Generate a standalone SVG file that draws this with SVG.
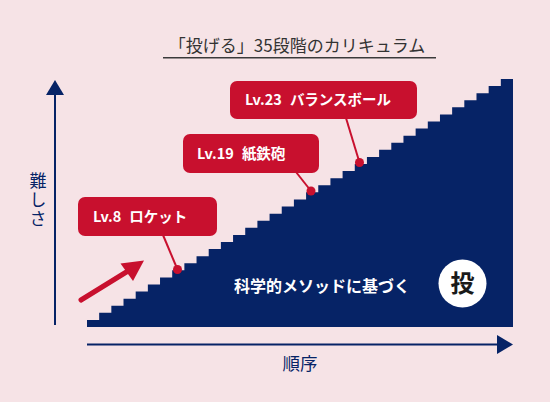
<svg xmlns="http://www.w3.org/2000/svg" width="550" height="402" viewBox="0 0 550 402">
<style>
.jp{font-family:"Noto Sans CJK JP","Noto Sans",sans-serif;}
.lbl{font-size:14.5px;font-weight:bold;fill:#ffffff;}
.box{fill:#c8102e;}
.lead{stroke:#c8102e;stroke-width:2;fill:none;}
.dot{fill:#c8102e;}
.navy{fill:#062366;}
.axis{stroke:#062366;stroke-width:2;fill:none;}
</style>
<rect width="550" height="402" fill="#f6e3e6"/>
<g id="title">
<text class="jp" x="297" y="52" font-size="17" fill="#333333" text-anchor="middle">「投げる」35段階のカリキュラム</text>
<line x1="163" y1="57.7" x2="436" y2="57.7" stroke="#3a3a3a" stroke-width="1.6"/>
</g>
<g id="axes">
<line class="axis" x1="55" y1="93" x2="55" y2="325"/>
<polygon class="navy" points="55,80 64,95 46,95"/>
<line class="axis" x1="87" y1="344.5" x2="499" y2="344.5"/>
<polygon class="navy" points="513,344.5 497,335 497,354"/>
<text class="jp navy" x="38" y="172" font-size="17" writing-mode="vertical-rl" letter-spacing="2">難しさ</text>
<text class="jp navy" x="300" y="370" font-size="17.5" text-anchor="middle">順序</text>
</g>
<g id="stairs">
<path class="navy" d="M87,327 V319.91 H99.17 V312.83 H111.34 V305.74 H123.51 V298.66 H135.69 V291.57 H147.86 V284.49 H160.03 V277.4 H172.2 V270.31 H184.37 V263.23 H196.54 V256.14 H208.71 V249.06 H220.89 V241.97 H233.06 V234.89 H245.23 V227.8 H257.4 V220.71 H269.57 V213.63 H281.74 V206.54 H293.91 V199.46 H306.09 V192.37 H318.26 V185.29 H330.43 V178.2 H342.6 V171.11 H354.77 V164.03 H366.94 V156.94 H379.11 V149.86 H391.29 V142.77 H403.46 V135.69 H415.63 V128.6 H427.8 V121.51 H439.97 V114.43 H452.14 V107.34 H464.31 V100.26 H476.49 V93.17 H488.66 V86.09 H500.83 V79 H513 V327 Z"/>
<text class="jp" x="234" y="292" font-size="16" font-weight="bold" fill="#ffffff">科学的メソッドに基づく</text>
<circle cx="462.5" cy="283.5" r="24" fill="#ffffff"/>
<text class="jp" x="462.5" y="292" font-size="24" font-weight="bold" fill="#1a1a1a" text-anchor="middle">投</text>
</g>
<g id="connectors">
<line class="lead" x1="163" y1="235" x2="177.5" y2="269.5"/>
<line class="lead" x1="296" y1="172" x2="311" y2="191"/>
<line class="lead" x1="346" y1="118" x2="359.5" y2="162.5"/>
<circle class="dot" cx="177.5" cy="269.5" r="4.5"/>
<circle class="dot" cx="311" cy="191" r="4.5"/>
<circle class="dot" cx="359.5" cy="162.5" r="4.5"/>
<line x1="81" y1="300" x2="128" y2="271" stroke="#c8102e" stroke-width="5" stroke-linecap="round"/>
<polygon points="144,260.5 120.5,263.5 133,281" fill="#c8102e"/>
</g>
<g id="lv8">
<rect class="box" x="78" y="197" width="139" height="39" rx="7"/>
<text class="jp lbl" x="93" y="222">Lv.8<tspan dx="8">ロケット</tspan></text>
</g>
<g id="lv19">
<rect class="box" x="183" y="134" width="136" height="39" rx="7"/>
<text class="jp lbl" x="197" y="159">Lv.19<tspan dx="8">紙鉄砲</tspan></text>
</g>
<g id="lv23">
<rect class="box" x="230" y="81" width="187" height="38" rx="7"/>
<text class="jp lbl" x="245" y="105">Lv.23<tspan dx="8">バランスボール</tspan></text>
</g>
</svg>
